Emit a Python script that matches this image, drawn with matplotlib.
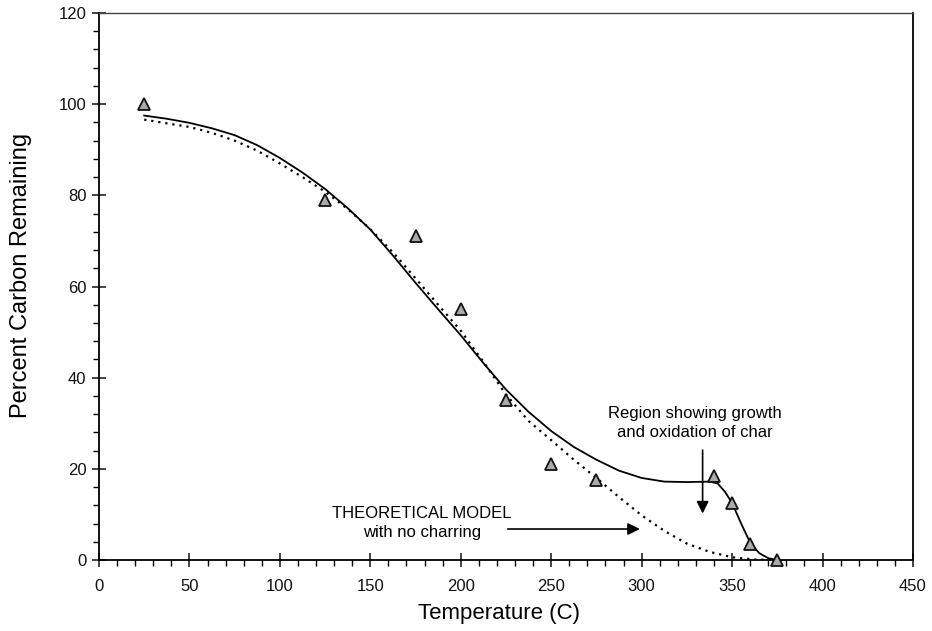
import matplotlib
matplotlib.use("Agg")
import matplotlib.pyplot as plt
from matplotlib.ticker import MultipleLocator

plt.rcParams['font.family'] = ['Liberation Sans', 'DejaVu Sans']

# measured carbon remaining
temp_meas = [25, 125, 175, 200, 225, 250, 275, 340, 350, 360, 375]
carbon_meas = [100, 79, 71, 55, 35, 21, 17.5, 18.5, 12.5, 3.5, 0]

# model with char growth/oxidation
temp_char = [25, 37.5, 50, 62.5, 75, 87.5, 100, 112.5, 125, 137.5, 150, 162.5,
             175, 187.5, 200, 212.5, 225, 237.5, 250, 262.5, 275, 287.5, 300,
             312.5, 325, 337.5, 342, 346, 350, 355, 360, 365, 370, 375]
carbon_char = [97.5, 96.8, 95.9, 94.7, 93.2, 91.0, 88.2, 85.0, 81.4, 77.2, 72.5,
               66.8, 60.8, 55.0, 49.3, 43.2, 37.4, 32.5, 28.3, 24.8, 22.0, 19.6,
               18.0, 17.2, 17.1, 17.2, 16.8, 15.0, 12.5, 8.0, 3.8, 1.5, 0.4, 0.0]

# theoretical model, no charring
temp_theo = [25, 37.5, 50, 62.5, 75, 87.5, 100, 112.5, 125, 137.5, 150, 162.5,
             175, 187.5, 200, 212.5, 225, 237.5, 250, 262.5, 275, 287.5, 300,
             312.5, 325, 337.5, 350, 362.5, 372]
carbon_theo = [96.6, 95.8, 95.0, 93.7, 92.0, 89.8, 87.0, 84.0, 80.8, 77.0, 72.6,
               67.5, 61.8, 56.0, 50.3, 43.5, 36.3, 30.5, 26.3, 22.0, 18.0, 13.8,
               9.8, 6.4, 3.6, 1.8, 0.6, 0.1, 0.0]

fig = plt.figure(figsize=(9.32, 6.31), dpi=100)
ax = fig.add_axes([0.1062, 0.1125, 0.8734, 0.8669])

ax.plot(temp_theo, carbon_theo, color='black', lw=1.6, ls=(0, (1, 2.2)))
ax.plot(temp_char, carbon_char, color='black', lw=1.3)
ax.plot(temp_meas, carbon_meas, ls='none', marker='^', ms=9,
        mfc='#aaaaaa', mec='#111111', mew=1.3, clip_on=False, zorder=5)

ax.set_xlim(0, 450)
ax.set_ylim(0, 120)
ax.xaxis.set_major_locator(MultipleLocator(50))
ax.xaxis.set_minor_locator(MultipleLocator(10))
ax.yaxis.set_major_locator(MultipleLocator(20))
ax.yaxis.set_minor_locator(MultipleLocator(4))
ax.tick_params(which='major', direction='inout', length=10, width=1.1,
               labelsize=12, colors='#111111')
ax.tick_params(axis='x', which='major', pad=9)
ax.tick_params(axis='y', which='major', pad=4)
ax.tick_params(which='minor', direction='out', length=4, width=1.0)
for s in ax.spines.values():
    s.set_linewidth(1.3)
ax.spines['top'].set_linewidth(1.0)
ax.spines['top'].set_color('#444444')

ax.set_xlabel('Temperature (C)', fontsize=16)
ax.set_ylabel('Percent Carbon Remaining', fontsize=17)
ax.xaxis.set_label_coords(0.491, -0.079)
ax.yaxis.set_label_coords(-0.082, 0.52)

ax.text(329.5, 30.1, 'Region showing growth\nand oxidation of char',
        ha='center', va='center', fontsize=12, linespacing=1.35)
ax.annotate('', xy=(333.7, 10.2), xytext=(333.7, 24.1),
            arrowprops=dict(arrowstyle='-|>', color='black', lw=1.2,
                            mutation_scale=18, shrinkA=0, shrinkB=0))

ax.text(178.4, 8.1, 'THEORETICAL MODEL\nwith no charring',
        ha='center', va='center', fontsize=12, linespacing=1.35)
ax.annotate('', xy=(299, 6.8), xytext=(226, 6.8),
            arrowprops=dict(arrowstyle='-|>', color='black', lw=1.2,
                            mutation_scale=18, shrinkA=0, shrinkB=0))

fig.savefig('out.png', dpi=100)
